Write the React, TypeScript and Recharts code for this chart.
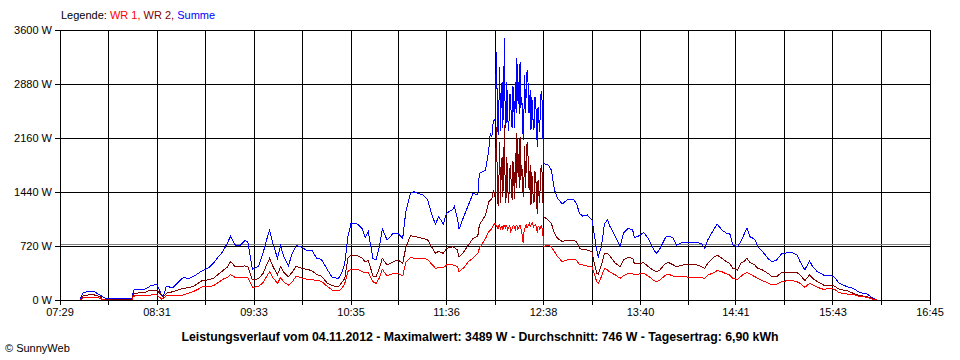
import React from 'react';
import { LineChart, Line, XAxis, YAxis, CartesianGrid, ReferenceLine } from 'recharts';

// time in minutes after midnight
const times = [
  462, 464, 467, 471, 475, 476, 478, 487, 495, 496, 503, 507, 511, 514, 515, 517, 521, 528, 531, 534,
  537, 540, 544, 547, 550, 553, 556, 558, 561, 564, 567, 569, 572, 576, 579, 581, 583, 585, 588, 590,
  592, 595, 597, 600, 604, 607, 610, 613, 616, 620, 623, 627, 629, 631, 633, 635, 639, 642, 644, 646,
  649, 651, 653, 655, 658, 662, 665, 668, 670, 673, 675, 678, 681, 684, 687, 689, 691, 694, 696, 700,
  701, 703, 704, 707, 710, 713, 716, 717, 721, 723, 724, 725, 726,
  727, 727.5, 728, 728.5, 729, 729.5, 730, 730.5, 731, 731.5, 732, 732.5, 733, 733.5, 734, 734.5,
  735, 735.5, 736, 736.5, 737, 737.5, 738, 738.5, 739, 739.5, 740, 740.5, 741, 741.5, 742, 742.5,
  743, 743.5, 744, 744.5, 745, 745.5, 746, 746.5, 747, 747.5, 748, 748.5, 749, 749.5, 750, 750.5,
  751, 751.5, 752, 752.5, 753, 753.5, 754, 754.5, 755, 755.5, 756, 756.5, 757, 757.5,
  758, 761, 763, 765, 767, 770, 773, 777, 779, 781, 783, 786, 789, 790, 792, 793,
  795, 797, 799, 800, 804, 807, 809, 812, 815, 816, 818, 822, 825, 828, 830, 832, 836, 838, 841, 843,
  847, 852, 856, 859, 861, 863, 866, 869, 872, 875, 877, 879, 882, 884, 886, 888, 890, 893, 895, 898,
  902, 904, 907, 910, 914, 917, 920, 922, 925, 928, 930, 933, 937, 941, 944, 947, 952, 956, 959, 962,
  965, 968, 971,
];

const wr1 = [
  0, 30, 40, 40, 20, 5, 0, 0, 0, 53, 55, 67, 67, 10, 20, 55, 60, 67, 90, 111,
  140, 178, 180, 190, 230, 276, 300, 340, 300, 295, 302, 300, 169, 180, 240, 310, 378, 300, 222, 300,
  240, 200, 230, 320, 290, 276, 270, 260, 250, 178, 133, 120, 150, 222, 380, 409, 413, 378, 360, 370,
  244, 222, 290, 409, 320, 356, 356, 320, 500, 569, 556, 556, 556, 540, 467, 422, 430, 430, 467, 467,
  460, 450, 378, 430, 511, 560, 620, 689, 822, 911, 933, 950, 1000,
  1022, 1000, 990, 970, 950, 990, 1000, 950, 970, 980, 930, 1000, 1000, 960, 1000, 1000,
  930, 950, 980, 990, 900, 930, 960, 990, 1000, 960, 940, 1000, 990, 950, 960, 980,
  1000, 960, 900, 850, 760, 900, 950, 990, 1000, 960, 980, 1000, 1020, 980, 1000, 1010,
  1040, 970, 990, 1000, 1010, 960, 900, 970, 980, 940, 950, 990, 960, 940,
  711, 733, 711, 644, 578, 511, 533, 542, 533, 467, 467, 453, 444, 378, 244, 222,
  311, 422, 400, 378, 333, 289, 320, 356, 347, 333, 342, 356, 320, 267, 244, 258, 333, 342, 320, 311,
  311, 302, 298, 298, 289, 333, 356, 391, 378, 347, 333, 289, 276, 311, 347, 364, 347, 311, 289, 258,
  222, 200, 209, 244, 258, 258, 244, 222, 169, 222, 200, 169, 142, 156, 142, 98, 80, 76, 53, 44,
  36, 13, 0,
];

const wr2 = [
  0, 60, 67, 67, 40, 10, 5, 5, 5, 89, 100, 133, 133, 60, 40, 90, 110, 156, 165, 178,
  220, 260, 270, 289, 340, 391, 440, 511, 444, 440, 455, 445, 267, 285, 360, 470, 556, 450, 340, 445,
  370, 310, 360, 450, 420, 409, 390, 340, 320, 222, 190, 178, 230, 289, 560, 600, 590, 560, 510, 530,
  320, 311, 420, 556, 467, 511, 533, 489, 700, 858, 850, 836, 820, 800, 689, 622, 650, 622, 689, 710,
  700, 667, 569, 640, 733, 822, 850, 1000, 1133, 1311, 1333, 1350, 1467,
  1380, 1900, 2310, 1500, 1250, 1600, 2100, 1300, 1730, 1900, 1370, 1700, 2330, 1500, 1300, 1900,
  1670, 1300, 1420, 1750, 1800, 1400, 1340, 1850, 1600, 1350, 1960, 1500, 2230, 1700, 1940, 1500,
  2178, 1600, 1800, 1700, 1373, 1600, 2050, 1500, 1800, 2100, 2020, 1500, 1480, 1800, 1267, 1700,
  1560, 1300, 1310, 1700, 1690, 1400, 1144, 1600, 1420, 1300, 1583, 1800, 1740, 1400,
  1111, 1067, 1022, 889, 822, 778, 800, 800, 778, 689, 667, 667, 644, 533, 356, 347,
  467, 622, 622, 600, 489, 444, 533, 569, 556, 489, 480, 498, 444, 400, 378, 391, 489, 498, 467, 444,
  467, 467, 467, 444, 422, 489, 556, 600, 556, 511, 489, 422, 400, 489, 511, 556, 498, 467, 422, 400,
  347, 311, 311, 364, 368, 368, 364, 333, 258, 333, 289, 244, 200, 200, 186, 142, 124, 89, 67, 53,
  44, 20, 0,
];

const summe = [
  20, 100, 111, 111, 60, 44, 22, 22, 22, 133, 140, 190, 209, 60, 44, 186, 160, 305, 280, 311,
  350, 391, 430, 490, 570, 644, 760, 850, 733, 724, 791, 778, 410, 450, 644, 800, 930, 760, 556, 720,
  580, 453, 600, 728, 698, 655, 667, 556, 542, 400, 298, 289, 356, 489, 844, 1022, 1013, 956, 836, 911,
  556, 533, 700, 947, 800, 889, 889, 822, 1178, 1422, 1444, 1422, 1400, 1333, 1111, 1013, 1111, 1013, 1156, 1209,
  1250, 1089, 942, 1111, 1267, 1422, 1400, 1689, 1733, 2000, 2222, 2178, 2400,
  2400, 2900, 3300, 2450, 2200, 2600, 3100, 2250, 2700, 2900, 2300, 2700, 3489, 2450, 2300, 2900,
  2600, 2250, 2400, 2750, 2700, 2350, 2300, 2850, 2600, 2300, 2900, 2500, 3222, 2650, 2900, 2480,
  3178, 2560, 2700, 2550, 2133, 2500, 3000, 2500, 2800, 3060, 3000, 2500, 2500, 2800, 2267, 2700,
  2600, 2270, 2300, 2700, 2700, 2360, 2044, 2570, 2400, 2240, 2533, 2790, 2700, 2340,
  1822, 1800, 1733, 1467, 1356, 1280, 1333, 1342, 1289, 1156, 1120, 1133, 1067, 933, 667, 578,
  711, 1022, 1067, 1000, 844, 711, 889, 956, 933, 836, 844, 898, 822, 689, 622, 667, 836, 853, 822, 733,
  769, 764, 764, 756, 689, 800, 911, 1013, 933, 889, 889, 733, 711, 778, 867, 956, 844, 809, 711, 644,
  542, 511, 533, 613, 631, 631, 600, 511, 400, 524, 444, 378, 333, 333, 302, 222, 178, 156, 111, 89,
  80, 31, 0,
];

const xTickLabels = ['07:29', '08:31', '09:33', '10:35', '11:36', '12:38', '13:40', '14:41', '15:43', '16:45'];
const yTicks = [0, 720, 1440, 2160, 2880, 3600];
const average = 746;

const toMin = (s: string) => {
  const [h, m] = s.split(':').map(Number);
  return h * 60 + m;
};
const majorTicks = xTickLabels.map(toMin);
const allTicks: number[] = [];
majorTicks.forEach((m, i) => {
  allTicks.push(m);
  if (i < majorTicks.length - 1) allTicks.push((m + majorTicks[i + 1]) / 2);
});

const data = times.map((t, i) => ({ t, wr1: wr1[i], wr2: wr2[i], summe: summe[i] }));

const FONT = '"Liberation Sans", Arial, sans-serif';

const xFmt = (v: number) => {
  const idx = majorTicks.indexOf(v);
  return idx >= 0 ? xTickLabels[idx] : '';
};

export default function App() {
  return (
    <div style={{ position: 'absolute', left: 0, top: 0, width: 960, height: 360, background: '#fff', fontFamily: FONT }}>
      <style>{`.recharts-cartesian-grid line, .recharts-cartesian-axis line, .recharts-reference-line line { shape-rendering: crispEdges; } .recharts-line-curve { shape-rendering: crispEdges; }`}</style>
      <LineChart width={960} height={360} data={data} margin={{ top: 30, right: 30, left: 0, bottom: 40 }}>
        <CartesianGrid stroke="#000" strokeOpacity={1} />
        <XAxis
          dataKey="t"
          type="number"
          domain={[majorTicks[0], majorTicks[majorTicks.length - 1]]}
          ticks={allTicks}
          tickFormatter={xFmt}
          interval={0}
          height={20}
          tickSize={5}
          tickMargin={3}
          stroke="#000"
          tick={{ fill: '#000', fontSize: 11, fontFamily: FONT }}
        />
        <YAxis
          type="number"
          domain={[0, 3600]}
          ticks={yTicks}
          tickFormatter={(v: number) => `${v} W`}
          interval={0}
          width={60}
          tickSize={5}
          tickMargin={3}
          stroke="#000"
          tick={{ fill: '#000', fontSize: 11, fontFamily: FONT }}
        />
        <ReferenceLine y={average} stroke="#808080" strokeWidth={1} />
        <Line dataKey="summe" stroke="#0000ff" strokeWidth={1} dot={false} type="linear" isAnimationActive={false} />
        <Line dataKey="wr2" stroke="#800000" strokeWidth={1} dot={false} type="linear" isAnimationActive={false} />
        <Line dataKey="wr1" stroke="#ff0000" strokeWidth={1} dot={false} type="linear" isAnimationActive={false} />
      </LineChart>
      <div style={{ position: 'absolute', left: 61, top: 9, fontSize: 11, whiteSpace: 'pre', color: '#000' }}>
        Legende: <span style={{ color: '#ff0000' }}>WR 1,</span> <span style={{ color: '#800000' }}>WR 2,</span>{' '}
        <span style={{ color: '#0000ff' }}>Summe</span>
      </div>
      <div style={{ position: 'absolute', left: 0, top: 330, width: 960, textAlign: 'center', fontSize: 12.3, fontWeight: 'bold', color: '#000' }}>
        Leistungsverlauf vom 04.11.2012 - Maximalwert: 3489 W - Durchschnitt: 746 W - Tagesertrag: 6,90 kWh
      </div>
      <div style={{ position: 'absolute', left: 5, top: 342, fontSize: 11, color: '#000' }}>© SunnyWeb</div>
    </div>
  );
}
